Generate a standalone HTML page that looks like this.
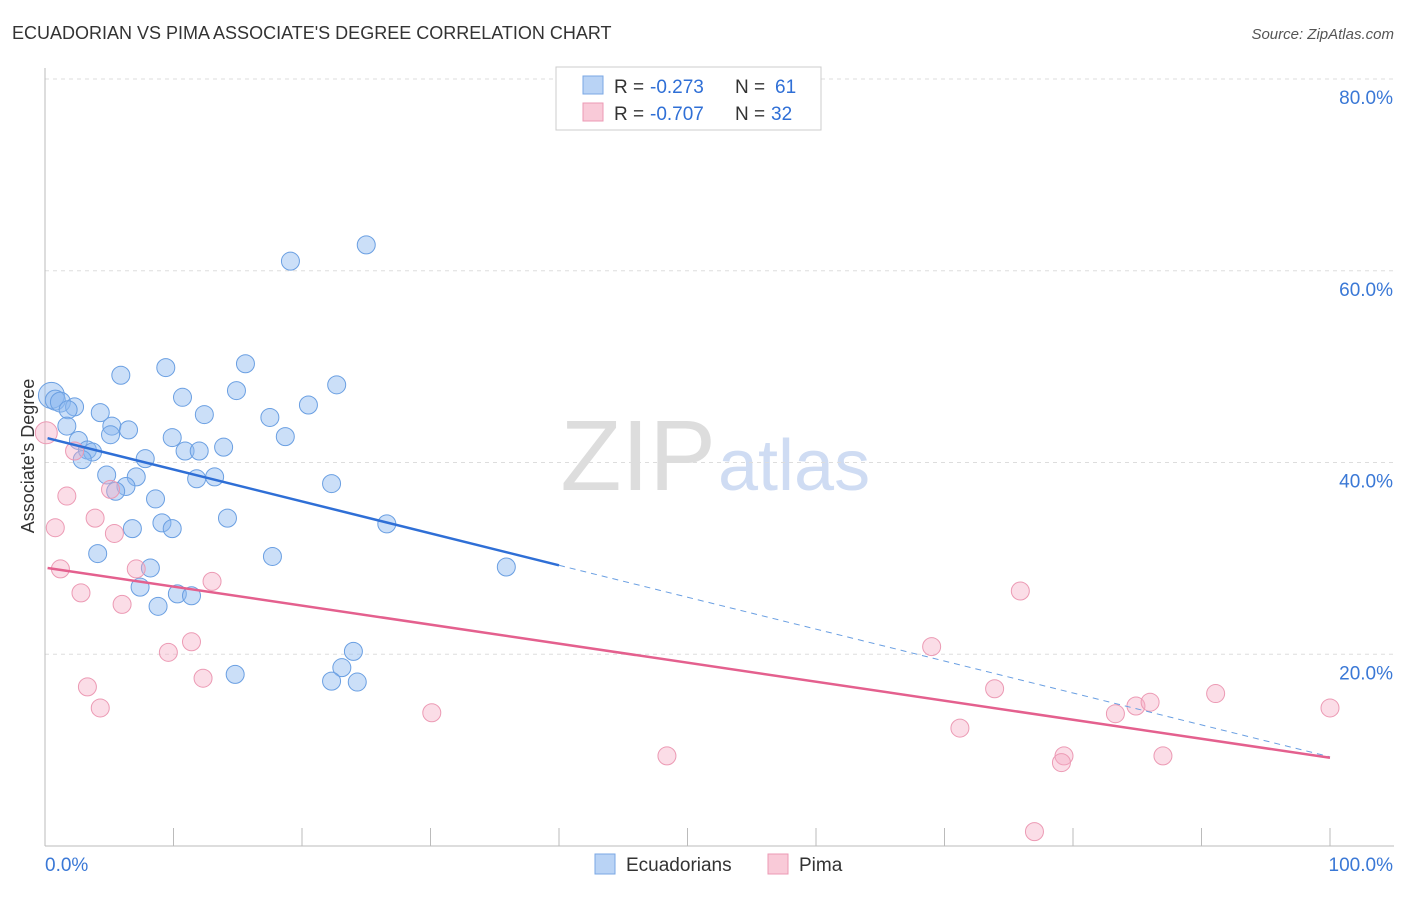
<!DOCTYPE html>
<html><head><meta charset="utf-8"><style>
body{margin:0;background:#fff;font-family:"Liberation Sans",sans-serif;}
svg text{font-family:"Liberation Sans",sans-serif;}
</style></head><body>
<svg id="chart" width="1406" height="892">
<text x="12" y="39" font-size="18" fill="#333">ECUADORIAN VS PIMA ASSOCIATE'S DEGREE CORRELATION CHART</text>
<text x="1394" y="39" font-size="15" fill="#555" text-anchor="end" font-style="italic">Source: ZipAtlas.com</text>
<text x="716" y="490" font-size="100" fill="#ddd" text-anchor="end" font-family="Liberation Serif">ZIP</text>
<text x="718" y="490" font-size="72" fill="#cfdcf3">atlas</text>
<text transform="translate(34,456) rotate(-90)" font-size="18" fill="#333" text-anchor="middle">Associate's Degree</text>
<g id="grid"></g><g id="marks"></g>
<g>
<rect x="556" y="67" width="265" height="63" fill="#fff" stroke="#ccc"/>
<rect x="583" y="76" width="20" height="18" fill="#b9d3f5" stroke="#7aa7e4"/>
<rect x="583" y="103" width="20" height="18" fill="#f9cad8" stroke="#ec9ab4"/>
<text x="614" y="93" font-size="19" fill="#333">R =</text>
<text x="650" y="93" font-size="19" fill="#2f6fd6">-0.273</text>
<text x="735" y="93" font-size="19" fill="#333">N =</text>
<text x="775" y="93" font-size="19" fill="#2f6fd6">61</text>
<text x="614" y="120" font-size="19" fill="#333">R =</text>
<text x="650" y="120" font-size="19" fill="#2f6fd6">-0.707</text>
<text x="735" y="120" font-size="19" fill="#333">N =</text>
<text x="771" y="120" font-size="19" fill="#2f6fd6">32</text>
</g>
<g>
<rect x="595" y="854" width="20" height="20" fill="#b9d3f5" stroke="#7aa7e4"/>
<text x="626" y="871" font-size="19" fill="#333">Ecuadorians</text>
<rect x="768" y="854" width="20" height="20" fill="#f9cad8" stroke="#ec9ab4"/>
<text x="799" y="871" font-size="19" fill="#333">Pima</text>
</g>
</svg>
<script>
const yTicks=[20,40,60,80];
const yTickLabels=["20.0%","40.0%","60.0%","80.0%"];
const xTickLabels=["0.0%","100.0%"];
const blueX=[0.5,0.8,1.2,2.3,1.8,4.3,5.9,9.4,15.6,19.1,25.0,10.7,14.9,22.7,20.5,12.4,17.5,5.2,6.5,1.7,5.1,2.6,9.9,18.7,3.3,3.7,10.9,12.0,13.9,7.8,2.9,4.8,7.1,11.8,13.2,22.3,6.3,5.5,8.6,9.1,14.2,26.6,6.8,9.9,4.1,17.7,8.2,35.9,7.4,10.3,11.4,8.8,24.0,23.1,22.3,24.3,14.8];
const blueY=[47.0,46.5,46.3,45.8,45.5,45.2,49.1,49.9,50.3,61.0,62.7,46.8,47.5,48.1,46.0,45.0,44.7,43.8,43.4,43.8,42.9,42.3,42.6,42.7,41.3,41.1,41.2,41.2,41.6,40.4,40.3,38.7,38.5,38.3,38.5,37.8,37.5,37.0,36.2,33.7,34.2,33.6,33.1,33.1,30.5,30.2,29.0,29.1,27.0,26.3,26.1,25.0,20.3,18.6,17.2,17.1,17.9];
const pinkX=[0.1,2.3,1.7,5.1,3.9,0.8,5.4,1.2,7.1,13.0,2.8,6.0,11.4,9.6,3.3,12.3,4.3,30.1,48.4,69.0,75.9,73.9,71.2,79.3,79.1,77.0,83.3,84.9,86.0,87.0,91.1,100];
const pinkY=[43.1,41.2,36.5,37.2,34.2,33.2,32.6,28.9,28.9,27.6,26.4,25.2,21.3,20.2,16.6,17.5,14.4,13.9,9.4,20.8,26.6,16.4,12.3,9.4,8.7,1.5,13.8,14.6,15.0,9.4,15.9,14.4];
const blueTrend=[42.6,9.3]; const blueSolidEnd=40;
const pinkTrend=[29.0,9.2];
const X=v=>45+v*12.85, Y=v=>846-v*9.5875;
const NS="http://www.w3.org/2000/svg";
const grid=document.getElementById('grid'), marks=document.getElementById('marks');
function mk(tag,attrs,parent){const e=document.createElementNS(NS,tag);for(const k in attrs)e.setAttribute(k,attrs[k]);parent.appendChild(e);return e;}
yTicks.forEach((t,i)=>{
 const l=mk('line',{x1:45,x2:1394,y1:Y(t),y2:Y(t),stroke:'#ddd','stroke-dasharray':'4,4'},grid);
 
 
 const tx=mk('text',{x:1393,y:Y(t)+25,'font-size':19,fill:'#3a78d6','text-anchor':'end'},grid);
 tx.textContent=yTickLabels[i];
 
 
});
const ax=mk('line',{x1:45,x2:45,y1:68,y2:846,stroke:'#bbb'},grid);


const bx=mk('line',{x1:45,x2:1394,y1:846,y2:846,stroke:'#bbb'},grid);


for(let i=0;i<=10;i++){
 const t=mk('line',{x1:X(i*10),x2:X(i*10),y1:828,y2:846,stroke:'#bbb'},grid);
 
 
}
[[0,'start',45],[100,'end',1393]].forEach((d,i)=>{
 const tx=mk('text',{x:d[2],y:871,'font-size':19,fill:'#3a78d6','text-anchor':d[1]},grid);
 tx.textContent=xTickLabels[i];
 
 
});
blueX.forEach((x,i)=>{
 const r=i<3?(i==0?13:10):9;
 const c=mk('circle',{cx:X(x),cy:Y(blueY[i]),r:r,fill:'rgba(140,185,240,0.45)',stroke:'#6a9fe2','stroke-width':1},marks);
 
 
});
pinkX.forEach((x,i)=>{
 const c=mk('circle',{cx:X(x),cy:Y(pinkY[i]),r:i==0?11:9,fill:'rgba(245,170,195,0.4)',stroke:'#ec9ab4','stroke-width':1},marks);
 
 
});
const by=x=>blueTrend[0]+(blueTrend[1]-blueTrend[0])*x/100;
const bl=mk('line',{x1:X(0.2),y1:Y(by(0.2)),x2:X(blueSolidEnd),y2:Y(by(blueSolidEnd)),stroke:'#2f6fd6','stroke-width':2.5},marks);


const bd=mk('line',{x1:X(blueSolidEnd),y1:Y(by(blueSolidEnd)),x2:X(100),y2:Y(by(100)),stroke:'#6a9fe2','stroke-width':1,'stroke-dasharray':'6,5'},marks);


const pl=mk('line',{x1:X(0.2),y1:Y(pinkTrend[0]),x2:X(100),y2:Y(pinkTrend[1]),stroke:'#e4608e','stroke-width':2.5},marks);


</script>
</body></html>
